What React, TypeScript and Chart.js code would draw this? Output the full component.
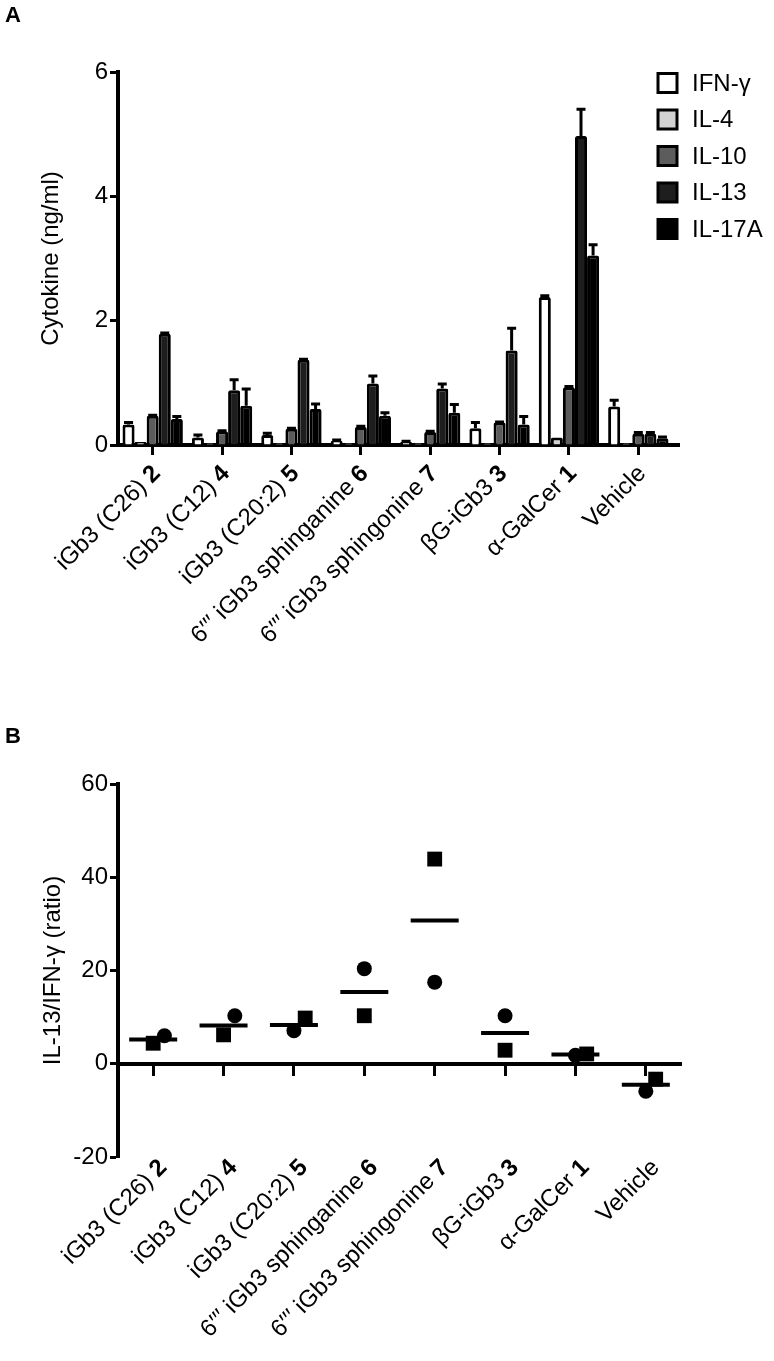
import React, { useEffect, useRef } from 'react';
import { Chart, registerables } from 'chart.js';

Chart.register(...registerables);

const FONT = 'Arial, "Liberation Sans", sans-serif';

// Categories (shared by both panels)
const CATEGORY_NAMES = [
  'iGb3 (C26)',
  'iGb3 (C12)',
  'iGb3 (C20:2)',
  '6\u2032\u2032\u2032 iGb3 sphinganine',
  '6\u2032\u2032\u2032 iGb3 sphingonine',
  '\u03b2G-iGb3',
  '\u03b1-GalCer',
  'Vehicle',
];
const COMPOUND_NUMBERS = ['2', '4', '5', '6', '7', '3', '1', ''];

// Panel A: cytokines (ng/ml), mean and upper error
const CYTOKINES = ['IFN-\u03b3', 'IL-4', 'IL-10', 'IL-13', 'IL-17A'];
const CYTOKINE_COLORS = ['#ffffff', '#d2d2d2', '#5c5c5c', '#1e1e1e', '#000000'];
const IFN_G = [0.33, 0.12, 0.16, 0.07, 0.05, 0.27, 2.38, 0.62];
const IFN_G_ERR = [0.03, 0.04, 0.03, 0.01, 0.01, 0.09, 0.02, 0.1];
const IL_4 = [0.05, 0.03, 0.03, 0.03, 0.03, 0.03, 0.12, 0.03];
const IL_4_ERR = [0, 0, 0, 0, 0, 0, 0, 0];
const IL_10 = [0.47, 0.22, 0.26, 0.29, 0.21, 0.36, 0.93, 0.18];
const IL_10_ERR = [0.01, 0.01, 0.01, 0.01, 0.01, 0.01, 0.01, 0.02];
const IL_13 = [1.79, 0.88, 1.37, 0.99, 0.91, 1.52, 4.97, 0.18];
const IL_13_ERR = [0.01, 0.17, 0.01, 0.12, 0.07, 0.36, 0.43, 0.02];
const IL_17A = [0.42, 0.63, 0.58, 0.47, 0.52, 0.33, 3.05, 0.11];
const IL_17A_ERR = [0.04, 0.27, 0.08, 0.05, 0.13, 0.13, 0.17, 0.02];
const A_Y_TICKS = [0, 2, 4, 6];

// Panel B: IL-13/IFN-γ ratio
const RATIO_CIRCLE = [6.0, 10.3, 7.1, 20.4, 17.5, 10.3, 1.8, -5.9];
const RATIO_SQUARE = [4.4, 6.2, 9.8, 10.3, 43.9, 2.9, 2.1, -3.3];
const RATIO_MEAN = [5.2, 8.2, 8.3, 15.4, 30.7, 6.6, 2.0, -4.5];
const CIRCLE_JITTER = [0.16, 0.16, 0, 0, 0, 0, 0, 0];
const SQUARE_JITTER = [0, 0, 0.16, 0, 0, 0, 0.16, 0.14];
const B_Y_TICKS = [-20, 0, 20, 40, 60];

const A_VALUES = [IFN_G, IL_4, IL_10, IL_13, IL_17A];
const A_ERRORS = [IFN_G_ERR, IL_4_ERR, IL_10_ERR, IL_13_ERR, IL_17A_ERR];

function drawRotatedLabel(ctx: CanvasRenderingContext2D, x: number, y: number, name: string, num: string, size: number) {
  ctx.save();
  ctx.translate(x, y);
  ctx.rotate(-Math.PI / 4);
  ctx.textAlign = 'right';
  ctx.textBaseline = 'middle';
  ctx.fillStyle = '#000';
  let off = 0;
  if (num) {
    ctx.font = `bold ${size}px ${FONT}`;
    ctx.fillText(num, 0, 0);
    off = ctx.measureText(num).width + size * 0.25;
  }
  ctx.font = `${size}px ${FONT}`;
  ctx.fillText(name, -off, 0);
  ctx.restore();
}

function drawYTitle(ctx: CanvasRenderingContext2D, x: number, y: number, text: string, size: number) {
  ctx.save();
  ctx.translate(x, y);
  ctx.rotate(-Math.PI / 2);
  ctx.textAlign = 'center';
  ctx.textBaseline = 'middle';
  ctx.fillStyle = '#000';
  ctx.font = `${size}px ${FONT}`;
  ctx.fillText(text, 0, 0);
  ctx.restore();
}

const errorBarPlugin = {
  id: 'errorBars',
  afterDatasetsDraw(chart: any) {
    const ctx = chart.ctx;
    const yScale = chart.scales.y;
    ctx.save();
    ctx.strokeStyle = '#000';
    ctx.lineWidth = 3;
    chart.data.datasets.forEach((ds: any, di: number) => {
      const meta = chart.getDatasetMeta(di);
      meta.data.forEach((bar: any, i: number) => {
        const err = A_ERRORS[di][i];
        if (!err) return;
        const top = yScale.getPixelForValue(A_VALUES[di][i] + err);
        ctx.beginPath();
        ctx.moveTo(bar.x, bar.y);
        ctx.lineTo(bar.x, top);
        ctx.moveTo(bar.x - 4.5, top);
        ctx.lineTo(bar.x + 4.5, top);
        ctx.stroke();
      });
    });
    ctx.restore();
  },
};

const panelADecor = {
  id: 'panelADecor',
  afterDraw(chart: any) {
    const ctx = chart.ctx;
    const area = chart.chartArea;
    const xs = chart.scales.x;
    // axis extension to the right
    ctx.save();
    ctx.strokeStyle = '#000';
    ctx.lineWidth = 4;
    ctx.beginPath();
    ctx.moveTo(area.right - 1, area.bottom);
    ctx.lineTo(area.right + 7, area.bottom);
    ctx.stroke();
    ctx.restore();
    // category labels
    CATEGORY_NAMES.forEach((name, i) => {
      drawRotatedLabel(ctx, xs.getPixelForValue(i) + 4, 470, name, COMPOUND_NUMBERS[i], 24);
    });
    drawYTitle(ctx, 51, (area.top + area.bottom) / 2, 'Cytokine (ng/ml)', 24);
    // panel letter
    ctx.save();
    ctx.fillStyle = '#000';
    ctx.font = `bold 22px ${FONT}`;
    ctx.textAlign = 'left';
    ctx.textBaseline = 'alphabetic';
    ctx.fillText('A', 5, 22);
    ctx.restore();
    // legend
    const rows = [83, 119.5, 156, 192.5, 229];
    CYTOKINES.forEach((name, i) => {
      ctx.save();
      ctx.fillStyle = CYTOKINE_COLORS[i];
      ctx.fillRect(658, rows[i] - 9.5, 19, 19);
      ctx.strokeStyle = '#000';
      ctx.lineWidth = 3;
      ctx.strokeRect(658, rows[i] - 9.5, 19, 19);
      ctx.fillStyle = '#000';
      ctx.font = `24px ${FONT}`;
      ctx.textAlign = 'left';
      ctx.textBaseline = 'middle';
      ctx.fillText(name, 692, rows[i] + 1);
      ctx.restore();
    });
  },
};

const panelBDecor = {
  id: 'panelBDecor',
  afterDraw(chart: any) {
    const ctx = chart.ctx;
    const area = chart.chartArea;
    const xs = chart.scales.x;
    CATEGORY_NAMES.forEach((name, i) => {
      drawRotatedLabel(ctx, xs.getPixelForValue(i) + 10, 464, name, COMPOUND_NUMBERS[i], 24);
    });
    drawYTitle(ctx, 53, (area.top + area.bottom) / 2, 'IL-13/IFN-\u03b3 (ratio)', 24);
    ctx.save();
    ctx.fillStyle = '#000';
    ctx.font = `bold 22px ${FONT}`;
    ctx.textAlign = 'left';
    ctx.textBaseline = 'alphabetic';
    ctx.fillText('B', 5, 43);
    ctx.restore();
  },
};

export default function App() {
  const refA = useRef<HTMLCanvasElement>(null);
  const refB = useRef<HTMLCanvasElement>(null);

  useEffect(() => {
    const chartA = new Chart(refA.current as HTMLCanvasElement, {
      type: 'bar',
      data: {
        labels: CATEGORY_NAMES,
        datasets: CYTOKINES.map((name, i) => ({
          label: name,
          data: A_VALUES[i],
          backgroundColor: CYTOKINE_COLORS[i],
          borderColor: '#000',
          borderWidth: 3,
          borderRadius: { topLeft: 2, topRight: 2 },
          categoryPercentage: 0.87,
          barPercentage: 1,
        })),
      },
      options: {
        responsive: false,
        animation: false,
        events: [],
        layout: { padding: { top: 72, right: 101, bottom: 235, left: 0 } },
        plugins: { legend: { display: false }, tooltip: { enabled: false } },
        scales: {
          x: {
            grid: { offset: false, drawOnChartArea: false, color: '#000', tickLength: 10, tickWidth: 3 },
            border: { color: '#000', width: 4 },
            ticks: { display: false },
            afterFit: (s: any) => { s.height = 20; },
          },
          y: {
            min: 0,
            max: 6,
            afterBuildTicks: (s: any) => { s.ticks = A_Y_TICKS.map((v) => ({ value: v })); },
            grid: { drawOnChartArea: false, color: '#000', tickLength: 8, tickWidth: 3 },
            border: { color: '#000', width: 4 },
            ticks: { color: '#000', font: { family: FONT, size: 24 }, padding: 2 },
            afterFit: (s: any) => { s.width = 118; },
          },
        },
      },
      plugins: [errorBarPlugin, panelADecor],
    } as any);

    const chartB = new Chart(refB.current as HTMLCanvasElement, {
      type: 'scatter',
      data: {
        datasets: [
          {
            label: 'circle',
            data: RATIO_CIRCLE.map((v, i) => ({ x: i + CIRCLE_JITTER[i], y: v })),
            pointStyle: 'circle',
            pointRadius: 7.5,
            backgroundColor: '#000',
            borderColor: '#000',
            borderWidth: 0,
          },
          {
            label: 'square',
            data: RATIO_SQUARE.map((v, i) => ({ x: i + SQUARE_JITTER[i], y: v })),
            pointStyle: 'rect',
            pointRadius: 10.5,
            backgroundColor: '#000',
            borderColor: '#000',
            borderWidth: 0,
          },
          {
            label: 'mean',
            data: RATIO_MEAN.map((v, i) => ({ x: i, y: v })),
            pointStyle: 'line',
            pointRadius: 24,
            backgroundColor: '#000',
            borderColor: '#000',
            borderWidth: 4,
          },
        ],
      },
      options: {
        responsive: false,
        animation: false,
        events: [],
        layout: { padding: { top: 84, right: 93, bottom: 204, left: 0 } },
        plugins: { legend: { display: false }, tooltip: { enabled: false } },
        scales: {
          x: {
            type: 'linear',
            min: -0.5,
            max: 7.5,
            position: { y: 0 },
            afterBuildTicks: (s: any) => { s.ticks = CATEGORY_NAMES.map((_, i) => ({ value: i })); },
            grid: { drawOnChartArea: false, color: '#000', tickLength: 10, tickWidth: 3 },
            border: { color: '#000', width: 4 },
            ticks: { display: false },
          },
          y: {
            min: -20,
            max: 60,
            afterBuildTicks: (s: any) => { s.ticks = B_Y_TICKS.map((v) => ({ value: v })); },
            grid: { drawOnChartArea: false, color: '#000', tickLength: 8, tickWidth: 3 },
            border: { color: '#000', width: 4 },
            ticks: { color: '#000', font: { family: FONT, size: 24 }, padding: 2 },
            afterFit: (s: any) => { s.width = 118; },
          },
        },
      },
      plugins: [panelBDecor],
    } as any);

    return () => {
      chartA.destroy();
      chartB.destroy();
    };
  }, []);

  return (
    <div style={{ position: 'absolute', left: 0, top: 0, width: 774, height: 1361, background: '#fff' }}>
      <canvas ref={refA} width={774} height={700} style={{ position: 'absolute', left: 0, top: 0 }} />
      <canvas ref={refB} width={774} height={661} style={{ position: 'absolute', left: 0, top: 700 }} />
    </div>
  );
}
